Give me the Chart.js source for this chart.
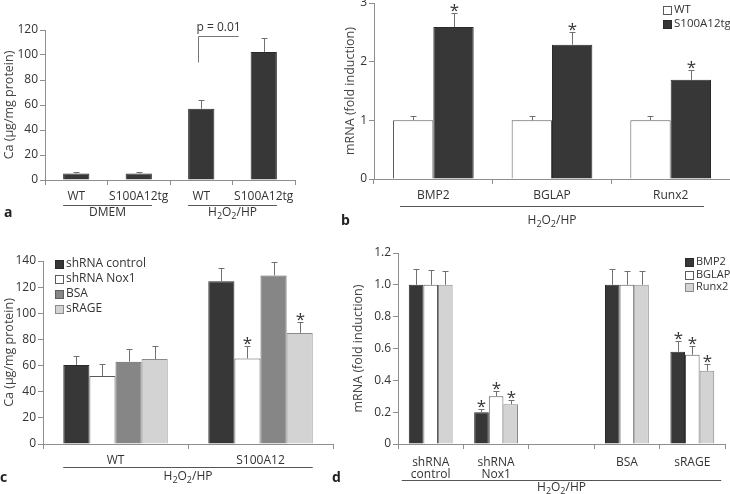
<!DOCTYPE html>
<html>
<head>
<meta charset="utf-8">
<script src="https://cdn.jsdelivr.net/npm/chart.js@4/dist/chart.umd.min.js"></script>
<style>
  body { margin: 0; background: #fff; width: 730px; height: 494px; position: relative; overflow: hidden; }
  canvas { position: absolute; }
  .tag { position: absolute; font: bold 14px 'Open Sans', sans-serif; line-height: 14px; color: #222; }
</style>
</head>
<body>
<canvas id="ca" width="330" height="247" style="left:0;top:0"></canvas>
<canvas id="cb" width="389" height="247" style="left:341px;top:0"></canvas>
<canvas id="cc" width="345" height="247" style="left:0;top:247px"></canvas>
<canvas id="cd" width="381" height="247" style="left:349px;top:247px"></canvas>
<div class="tag" style="left:4px;top:205px">a</div>
<div class="tag" style="left:341px;top:213px">b</div>
<div class="tag" style="left:0px;top:470px">c</div>
<div class="tag" style="left:332px;top:470px">d</div>
<script>
// panel a
const labelsA = ['WT', 'S100A12tg', 'WT', 'S100A12tg'];
const caA = [5.2, 5.2, 57, 102.5];
const caErrA = [1.2, 1.2, 7.2, 11.3];

// panel b
const genesB = ['BMP2', 'BGLAP', 'Runx2'];
const wtB = [1.0, 1.0, 1.0];
const wtErrB = [0.075, 0.075, 0.075];
const tgB = [2.59, 2.29, 1.69];
const tgErrB = [0.24, 0.22, 0.17];
const tgStarsB = [true, true, true];

// panel c
const labelsC = ['WT', 'S100A12'];
const shCtrlC = [60.5, 124.5];
const shCtrlErrC = [7, 10.5];
const shNoxC = [52, 65.5];
const shNoxErrC = [9.5, 9.5];
const shNoxStarsC = [false, true];
const bsaC = [63, 129];
const bsaErrC = [9.7, 10.1];
const sRageC = [65, 85];
const sRageErrC = [9.8, 8.3];
const sRageStarsC = [false, true];

// panel d
const labelsD = [['shRNA', 'control'], ['shRNA', 'Nox1'], '', 'BSA', 'sRAGE'];
const bmp2D = [1.0, 0.20, null, 1.0, 0.58];
const bmp2ErrD = [0.10, 0.022, null, 0.10, 0.065];
const bglapD = [1.0, 0.30, null, 1.0, 0.56];
const bglapErrD = [0.095, 0.033, null, 0.09, 0.054];
const runx2D = [1.0, 0.25, null, 1.0, 0.46];
const runx2ErrD = [0.085, 0.025, null, 0.085, 0.04];
const starsD = [false, true, false, false, true];

Chart.defaults.font.family = "'Open Sans', 'Noto Sans', sans-serif";
Chart.defaults.font.size = 12;
Chart.defaults.color = '#333';
Chart.defaults.animation = false;

const AXIS = '#8e8e8e';
const DARK = '#373737', DARK_EDGE = '#2a2a2a';
const WHITE = '#ffffff', WHITE_EDGE = '#5a5a5a';
const MID = '#868686', MID_EDGE = '#5e5e5e';
const LIGHT = '#d3d3d3', LIGHT_EDGE = '#8a8a8a';

// draws "H2O2/HP" with the 2s as subscripts
function drawFormula(ctx, cx, cy) {
  const parts = [['H', 0], ['2', 1], ['O', 0], ['2', 1], ['/HP', 0]];
  const big = "12px 'Open Sans', sans-serif", small = "9px 'Open Sans', sans-serif";
  let w = 0;
  parts.forEach(p => { ctx.font = p[1] ? small : big; w += ctx.measureText(p[0]).width; });
  let x = cx - w / 2;
  ctx.textAlign = 'left';
  ctx.textBaseline = 'middle';
  parts.forEach(p => {
    ctx.font = p[1] ? small : big;
    ctx.fillText(p[0], x, p[1] ? cy + 3 : cy);
    x += ctx.measureText(p[0]).width;
  });
}

const extras = {
  id: 'extras',
  afterDatasetsDraw(chart) {
    const ctx = chart.ctx, y = chart.scales.y;
    ctx.save();
    chart.data.datasets.forEach((ds, di) => {
      const meta = chart.getDatasetMeta(di);
      meta.data.forEach((bar, i) => {
        const v = ds.data[i];
        if (v == null) return;
        const top = Math.round(y.getPixelForValue(v + ds.err[i])) + 0.5;
        const x = Math.round(bar.x) + 0.5;
        ctx.strokeStyle = '#707070';
        ctx.lineWidth = 1;
        ctx.beginPath();
        ctx.moveTo(x, bar.y);
        ctx.lineTo(x, top);
        ctx.moveTo(x - 3, top);
        ctx.lineTo(x + 3, top);
        ctx.stroke();
        if (ds.stars && ds.stars[i]) {
          ctx.fillStyle = '#333';
          ctx.font = "17px 'Open Sans', sans-serif";
          ctx.textAlign = 'center';
          ctx.textBaseline = 'alphabetic';
          ctx.fillText('*', x, top + 2);
        }
      });
    });
    ctx.restore();
  },
  afterDraw(chart, args, opts) {
    const ctx = chart.ctx, area = chart.chartArea;
    ctx.save();
    ctx.fillStyle = '#333';
    ctx.strokeStyle = '#555';
    ctx.lineWidth = 1;
    const edge = (idx, side) => {
      let best = side < 0 ? Infinity : -Infinity;
      chart.data.datasets.forEach((ds, di) => {
        const bar = chart.getDatasetMeta(di).data[idx];
        const e = bar.x + side * bar.width / 2;
        best = side < 0 ? Math.min(best, e) : Math.max(best, e);
      });
      return best;
    };
    (opts.groups || []).forEach(g => {
      const x0 = edge(g.from, -1) - opts.inset, x1 = edge(g.to, 1) + opts.inset;
      const ly = Math.round(area.bottom + opts.lineY) + 0.5;
      ctx.beginPath();
      ctx.moveTo(x0, ly);
      ctx.lineTo(x1, ly);
      ctx.stroke();
      const ty = area.bottom + opts.textY;
      if (g.formula) {
        drawFormula(ctx, (x0 + x1) / 2, ty);
      } else {
        ctx.font = "12px 'Open Sans', sans-serif";
        ctx.textAlign = 'center';
        ctx.textBaseline = 'middle';
        ctx.fillText(g.text, (x0 + x1) / 2, ty);
      }
    });
    if (opts.legend) {
      const L = opts.legend;
      ctx.font = L.size + "px 'Open Sans', sans-serif";
      ctx.textAlign = 'left';
      ctx.textBaseline = 'middle';
      chart.data.datasets.forEach((ds, di) => {
        const cy = L.y + di * L.gap;
        ctx.fillStyle = ds.backgroundColor;
        ctx.fillRect(L.x + 0.5, Math.round(cy - 4) + 0.5, 8, 8);
        ctx.strokeStyle = ds.borderColor;
        ctx.strokeRect(L.x + 0.5, Math.round(cy - 4) + 0.5, 8, 8);
        ctx.fillStyle = '#333';
        ctx.fillText(ds.label, L.x + 11, cy);
      });
    }
    if (opts.bracket) {
      const B = opts.bracket;
      const bars = chart.getDatasetMeta(0).data;
      const x0 = Math.round(bars[B.index].x) - 2.5;
      const x1 = bars[B.index].x + B.span * (bars[B.index + 1].x - bars[B.index].x);
      const yLow = chart.scales.y.getPixelForValue(B.low);
      const yHigh = Math.round(chart.scales.y.getPixelForValue(B.high)) + 0.5;
      ctx.strokeStyle = '#777';
      ctx.beginPath();
      ctx.moveTo(x0, yLow);
      ctx.lineTo(x0, yHigh);
      ctx.lineTo(x1, yHigh);
      ctx.stroke();
      ctx.fillStyle = '#333';
      ctx.font = "12px 'Open Sans', sans-serif";
      ctx.textAlign = 'center';
      ctx.textBaseline = 'middle';
      ctx.fillText(B.text, (x0 + x1) / 2, yHigh - 9);
    }
    ctx.restore();
  }
};

function yScale(max, step, title, width, fmt) {
  return {
    min: 0, max: max,
    ticks: { stepSize: step, padding: 2, color: '#333', callback: fmt },
    grid: { drawOnChartArea: false, tickLength: 5, color: AXIS },
    border: { color: AXIS },
    title: { display: true, text: title, padding: { top: 2 }, color: '#444', font: { size: 12.5 } },
    afterFit(s) { s.width = width; s.paddingTop = 0; s.paddingBottom = 0; }
  };
}
function xScale(height, lineHeight, pad) {
  return {
    ticks: { padding: pad, maxRotation: 0, autoSkip: false, color: '#333', font: { lineHeight: lineHeight } },
    grid: { drawOnChartArea: false, tickLength: 5, color: AXIS },
    border: { color: AXIS },
    afterFit(s) { s.height = height; s.paddingLeft = 0; s.paddingRight = 0; }
  };
}
function bars(label, data, err, fill, edge, pct, stars) {
  return {
    label: label, data: data, err: err, stars: stars,
    backgroundColor: fill, borderColor: edge, borderWidth: 1,
    barPercentage: 1, categoryPercentage: pct
  };
}
function base(pad, yS, xS, ex) {
  return {
    responsive: false,
    layout: { padding: pad },
    scales: { x: xS, y: yS },
    plugins: { legend: { display: false }, tooltip: { enabled: false }, extras: ex }
  };
}

new Chart(document.getElementById('ca'), {
  type: 'bar',
  data: { labels: labelsA, datasets: [bars('Ca', caA, caErrA, DARK, DARK_EDGE, 0.42)] },
  options: base({ left: 0, top: 30, right: 35, bottom: 0 },
    yScale(120, 20, 'Ca (µg/mg protein)', 45),
    xScale(67, 1.2, 4),
    { groups: [{ text: 'DMEM', from: 0, to: 1 }, { formula: true, from: 2, to: 3 }],
      lineY: 25, textY: 33, inset: 0,
      bracket: { index: 2, low: 94, high: 115, span: 0.6, text: 'p = 0.01' } }),
  plugins: [extras]
});

new Chart(document.getElementById('cb'), {
  type: 'bar',
  data: { labels: genesB, datasets: [
    bars('WT', wtB, wtErrB, WHITE, WHITE_EDGE, 0.68),
    bars('S100A12tg', tgB, tgErrB, DARK, DARK_EDGE, 0.68, tgStarsB)
  ] },
  options: base({ left: 0, top: 3, right: 0, bottom: 0 },
    yScale(3, 1, 'mRNA (fold induction)', 33),
    xScale(68, 1.2, 4),
    { groups: [{ formula: true, from: 0, to: 2 }], lineY: 27, textY: 42, inset: -7,
      legend: { x: 322, y: 10, gap: 14, size: 11.5 } }),
  plugins: [extras]
});

new Chart(document.getElementById('cc'), {
  type: 'bar',
  data: { labels: labelsC, datasets: [
    bars('shRNA control', shCtrlC, shCtrlErrC, DARK, DARK_EDGE, 0.72),
    bars('shRNA Nox1', shNoxC, shNoxErrC, WHITE, WHITE_EDGE, 0.72, shNoxStarsC),
    bars('BSA', bsaC, bsaErrC, MID, MID_EDGE, 0.72),
    bars('sRAGE', sRageC, sRageErrC, LIGHT, LIGHT_EDGE, 0.72, sRageStarsC)
  ] },
  options: base({ left: 0, top: 14, right: 12, bottom: 0 },
    yScale(140, 20, 'Ca (µg/mg protein)', 43),
    xScale(50, 1.2, 4),
    { groups: [{ formula: true, from: 0, to: 1 }], lineY: 23, textY: 33, inset: 0,
      legend: { x: 55, y: 17, gap: 15, size: 12 } }),
  plugins: [extras]
});

new Chart(document.getElementById('cd'), {
  type: 'bar',
  data: { labels: labelsD, datasets: [
    bars('BMP2', bmp2D, bmp2ErrD, DARK, DARK_EDGE, 0.67, starsD),
    bars('BGLAP', bglapD, bglapErrD, WHITE, WHITE_EDGE, 0.67, starsD),
    bars('Runx2', runx2D, runx2ErrD, LIGHT, LIGHT_EDGE, 0.67, starsD)
  ] },
  options: base({ left: 0, top: 6, right: 5, bottom: 0 },
    yScale(1.2, 0.2, 'mRNA (fold induction)', 49, v => v === 0 ? '0' : v.toFixed(1)),
    xScale(50, 1.05, 7),
    { groups: [{ formula: true, from: 0, to: 4 }], lineY: 36, textY: 44, inset: 7,
      legend: { x: 336, y: 15, gap: 12.5, size: 11 } }),
  plugins: [extras]
});
</script>
</body>
</html>
